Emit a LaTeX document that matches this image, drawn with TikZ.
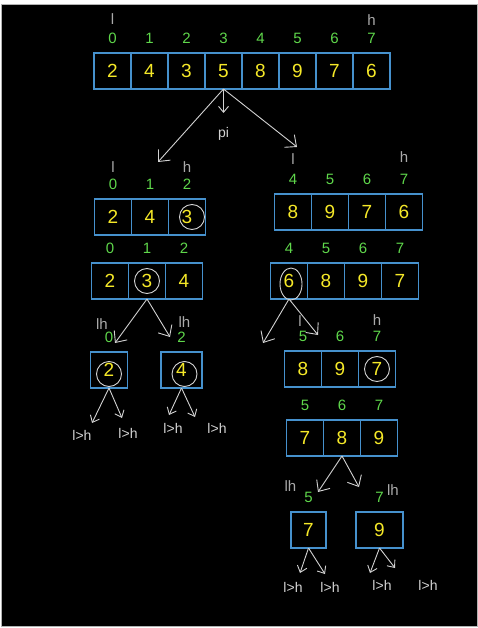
\documentclass[tikz,border=0pt]{standalone}
\usepackage{fontspec}
\setmainfont{Liberation Sans}
\usepackage{tikz}
\usetikzlibrary{arrows.meta,positioning,shapes.geometric}
\definecolor{cellblue}{RGB}{70,145,205}
\definecolor{idxgreen}{RGB}{95,215,75}
\definecolor{valyellow}{RGB}{245,232,40}
\definecolor{chalk}{RGB}{210,210,210}
\definecolor{chalkdim}{RGB}{170,170,170}
\tikzset{
  cell/.style={
    rectangle, draw=cellblue, line width=1.3pt, fill=black,
    minimum width=37pt, minimum height=36pt, inner sep=0pt, outer sep=0pt,
    text=valyellow, font=\fontsize{19}{19}\selectfont
  },
  idx/.style={inner sep=0pt, text=idxgreen, font=\fontsize{15}{15}\selectfont},
  ptr/.style={inner sep=0pt, text=chalkdim, font=\fontsize{15}{15}\selectfont},
  note/.style={inner sep=0pt, text=chalk, font=\fontsize{14}{14}\selectfont},
  ring/.style={circle, draw=chalk, line width=0.9pt, minimum size=25pt, inner sep=0pt},
  oval/.style={ellipse, draw=chalk, line width=0.9pt, minimum width=22pt, minimum height=32pt, inner sep=0pt},
  chalkarrow/.style={-{Straight Barb[length=9pt,width=16pt]}, line width=0.9pt, draw=chalk},
  smallarrow/.style={-{Straight Barb[length=6pt,width=10pt]}, line width=0.9pt, draw=chalk},
}

\begin{document}
\begin{tikzpicture}[x=1pt, y=-1pt, node distance=0pt]
  \useasboundingbox (0,0) rectangle (478,628);
  \fill[white] (0,0) rectangle (478,628);
  \draw[draw=black!30, fill=black, line width=0.8pt] (1,4) rectangle (477,626);
  % full array
  \node (a0) [cell] at (112.5,71) {2};
  \node (a1) [cell, right=of a0] {4}; \node (a2) [cell, right=of a1] {3};
  \node (a3) [cell, right=of a2] {5}; \node (a4) [cell, right=of a3] {8};
  \node (a5) [cell, right=of a4] {9}; \node (a6) [cell, right=of a5] {7};
  \node (a7) [cell, right=of a6] {6};
  \node (ia0) [idx, above=9pt of a0] {0}; \node (ia1) [idx, above=9pt of a1] {1};
  \node (ia2) [idx, above=9pt of a2] {2}; \node (ia3) [idx, above=9pt of a3] {3};
  \node (ia4) [idx, above=9pt of a4] {4}; \node (ia5) [idx, above=9pt of a5] {5};
  \node (ia6) [idx, above=9pt of a6] {6}; \node (ia7) [idx, above=9pt of a7] {7};
  \node (la) [ptr, above=8pt of ia0] {l};
  \node (ha) [ptr, above=8pt of ia7] {h};
  \node (pi) [note, below=38pt of a3] {pi};
  \coordinate (toL) at (158,162);
  \coordinate (toR) at (297,147);
  \draw[smallarrow, shorten >=14pt] (a3.south) -- (pi.north);
  \draw[chalkarrow] (a3.south) -- (toL);
  \draw[chalkarrow] (a3.south) -- (toR);
  % left half
  \node (b0) [cell] at (113,217) {2};
  \node (b1) [cell, right=of b0] {4}; \node (b2) [cell, right=of b1] {3};
  \node (ib0) [idx, above=9pt of b0] {0}; \node (ib1) [idx, above=9pt of b1] {1};
  \node (ib2) [idx, above=9pt of b2] {2};
  \node (lb) [ptr, above=6pt of ib0] {l};
  \node (hb) [ptr, above=6pt of ib2] {h};
  \node (rb2) [ring, xshift=5pt] at (b2) {};
  \node (c0) [cell] at (110,281) {2};
  \node (c1) [cell, right=of c0] {3}; \node (c2) [cell, right=of c1] {4};
  \node (ic0) [idx, above=9pt of c0] {0}; \node (ic1) [idx, above=9pt of c1] {1};
  \node (ic2) [idx, above=9pt of c2] {2};
  \node (rc1) [ring] at (c1) {};
  % right half
  \node (d0) [cell] at (293,212) {8};
  \node (d1) [cell, right=of d0] {9}; \node (d2) [cell, right=of d1] {7};
  \node (d3) [cell, right=of d2] {6};
  \node (id0) [idx, above=9pt of d0] {4}; \node (id1) [idx, above=9pt of d1] {5};
  \node (id2) [idx, above=9pt of d2] {6}; \node (id3) [idx, above=9pt of d3] {7};
  \node (ld) [ptr, above=10pt of id0] {l};
  \node (hd) [ptr, above=12pt of id3] {h};
  \node (e0) [cell] at (289,281) {6};
  \node (e1) [cell, right=of e0] {8}; \node (e2) [cell, right=of e1] {9};
  \node (e3) [cell, right=of e2] {7};
  \node (ie0) [idx, above=9pt of e0] {4}; \node (ie1) [idx, above=9pt of e1] {5};
  \node (ie2) [idx, above=9pt of e2] {6}; \node (ie3) [idx, above=9pt of e3] {7};
  \node (re0) [oval, xshift=2pt, yshift=-3pt] at (e0) {};
  \node (f0) [cell] at (303,369) {8};
  \node (f1) [cell, right=of f0] {9}; \node (f2) [cell, right=of f1] {7};
  \node (if0) [idx, above=9pt of f0] {5}; \node (if1) [idx, above=9pt of f1] {6};
  \node (if2) [idx, above=9pt of f2] {7};
  \node (lf) [ptr, above=4pt of if0, xshift=-3pt] {l};
  \node (hf) [ptr, above=6pt of if2] {h};
  \node (rf2) [ring] at (f2) {};
  \node (g0) [cell] at (305,438) {7};
  \node (g1) [cell, right=of g0] {8}; \node (g2) [cell, right=of g1] {9};
  \node (ig0) [idx, above=9pt of g0] {5}; \node (ig1) [idx, above=9pt of g1] {6};
  \node (ig2) [idx, above=9pt of g2] {7};
  % splits
  \coordinate (cL) at (115,343); \coordinate (cR) at (170,337);
  \coordinate (eL) at (263,343); \coordinate (eR) at (318,335);
  \coordinate (gL) at (318,492); \coordinate (gR) at (359,487);
  \draw[chalkarrow] (c1.south) -- (cL); \draw[chalkarrow] (c1.south) -- (cR);
  \draw[chalkarrow] (e0.south) -- (eL); \draw[chalkarrow] (e0.south) -- (eR);
  \draw[chalkarrow] (g1.south) -- (gL); \draw[chalkarrow] (g1.south) -- (gR);
  % single cells
  \node (p2) [cell] at (109,370) {2};
  \node (p4) [cell, minimum width=41pt] at (181.5,370) {4};
  \node (q7) [cell, minimum width=35pt] at (308.5,530) {7};
  \node (q9) [cell, minimum width=47pt] at (379.5,530) {9};
  \node (ip2) [idx, above=9pt of p2] {0}; \node (ip4) [idx, above=9pt of p4] {2};
  \node (iq7) [idx, above=9pt of q7] {5}; \node (iq9) [idx, above=9pt of q9] {7};
  \node (lp2) [ptr, above=2pt of ip2, xshift=-7pt] {lh};
  \node (lp4) [ptr, above=4pt of ip4, xshift=3pt] {lh};
  \node (lq7) [ptr, above=0pt of iq7, xshift=-18pt] {lh};
  \node (lq9) [ptr, right=3pt of iq9, yshift=8pt] {lh};
  \node (rp2) [ring, yshift=-4pt] at (p2) {};
  \node (rp4) [ring, xshift=3pt, yshift=-4pt] at (p4) {};
  % base cases
  \coordinate (p2L) at (92,423); \coordinate (p2R) at (122,418);
  \coordinate (p4L) at (169,415); \coordinate (p4R) at (195,417);
  \coordinate (q7L) at (300,573); \coordinate (q7R) at (325,574);
  \coordinate (q9L) at (370,573); \coordinate (q9R) at (395,568);
  \draw[smallarrow] (p2.south) -- (p2L); \draw[smallarrow] (p2.south) -- (p2R);
  \draw[smallarrow] (p4.south) -- (p4L); \draw[smallarrow] (p4.south) -- (p4R);
  \draw[smallarrow] (q7.south) -- (q7L); \draw[smallarrow] (q7.south) -- (q7R);
  \draw[smallarrow] (q9.south) -- (q9L); \draw[smallarrow] (q9.south) -- (q9R);
  \node (n1) [note] at (82,435) {l>h}; \node (n2) [note] at (128,433) {l>h};
  \node (n3) [note] at (173,428) {l>h}; \node (n4) [note] at (217,428) {l>h};
  \node (n5) [note] at (293,587) {l>h}; \node (n6) [note] at (330,587) {l>h};
  \node (n7) [note] at (382,585) {l>h}; \node (n8) [note] at (428,585) {l>h};
\end{tikzpicture}
\end{document}
